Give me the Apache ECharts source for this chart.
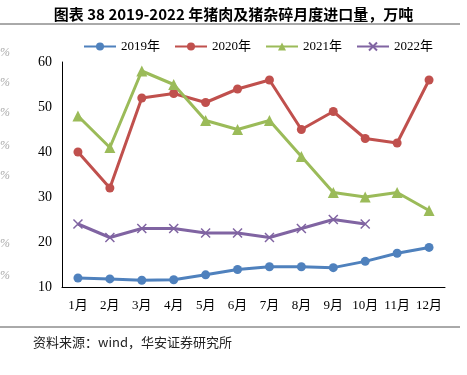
<!DOCTYPE html>
<html>
<head>
<meta charset="utf-8">
<script src="https://cdn.jsdelivr.net/npm/echarts@6/dist/echarts.min.js"></script>
<style>
  html, body { margin: 0; padding: 0; background: #fff; }
  #main { width: 467px; height: 375px; }
</style>
</head>
<body>
<div id="main"></div>
<script>
const months = ['1月', '2月', '3月', '4月', '5月', '6月', '7月', '8月', '9月', '10月', '11月', '12月'];
const y2019 = [12, 11.8, 11.5, 11.6, 12.7, 13.9, 14.5, 14.5, 14.3, 15.7, 17.5, 18.8];
const y2020 = [40, 32, 52, 53, 51, 54, 56, 45, 49, 43, 42, 56];
const y2021 = [48, 41, 58, 55, 47, 45, 47, 39, 31, 30, 31, 27];
const y2022 = [24, 21, 23, 23, 22, 22, 21, 23, 25, 24];

const serif = '"Liberation Serif", "Noto Sans CJK SC", serif';
const cross = 'path://M0,0L10,10M10,0L0,10';

const chart = echarts.init(document.getElementById('main'));

// faint leftover "%" marks along the left edge
const pctY = [47, 77, 107, 140, 170, 238, 270];
const pctMarks = pctY.map(y => ({
  type: 'text', left: 0, top: y,
  style: { text: '%', fill: '#aaa', font: 'italic 12px ' + serif }
}));

function line(name, data, color, symbol, size) {
  return {
    name: name, type: 'line', data: data,
    symbol: symbol, symbolSize: size,
    lineStyle: { color: color, width: 3 },
    itemStyle: { color: color, borderColor: color, borderWidth: symbol === cross ? 1.5 : 0 },
    emphasis: { disabled: true }
  };
}

chart.setOption({
  backgroundColor: '#fff',
  animation: false,
  title: {
    text: '图表 38 2019-2022 年猪肉及猪杂碎月度进口量，万吨',
    left: 'center', top: 2,
    textStyle: { fontSize: 15, fontWeight: 'bold', color: '#000', fontFamily: '"Noto Sans CJK SC", sans-serif' }
  },
  legend: {
    top: 35, left: 78,
    itemWidth: 32, itemHeight: 10, itemGap: 14,
    textStyle: { fontSize: 13, color: '#000', fontFamily: serif }
  },
  grid: { left: 62, right: 22, top: 62, bottom: 88 },
  xAxis: {
    type: 'category', data: months, boundaryGap: true,
    axisLine: { lineStyle: { color: '#000', width: 1 } },
    axisTick: { show: false },
    axisLabel: { color: '#000', fontSize: 13, fontFamily: serif, margin: 12, interval: 0 }
  },
  yAxis: {
    type: 'value', min: 10, max: 60, interval: 10,
    axisLine: { show: true, lineStyle: { color: '#000', width: 1 } },
    axisTick: { show: false },
    splitLine: { show: false },
    axisLabel: { color: '#000', fontSize: 14, fontFamily: serif, margin: 10 }
  },
  graphic: [
    { type: 'line', shape: { x1: 0, y1: 24, x2: 460, y2: 24 }, style: { stroke: '#555', lineWidth: 1 } },
    { type: 'line', shape: { x1: 0, y1: 327, x2: 460, y2: 327 }, style: { stroke: '#555', lineWidth: 1 } },
    { type: 'text', left: 33, top: 336,
      style: { text: '资料来源：wind，华安证券研究所', fill: '#222', font: '13px "Noto Sans CJK SC", serif' } }
  ].concat(pctMarks),
  series: [
    line('2019年', y2019, '#4F81BD', 'circle', 9),
    line('2020年', y2020, '#C0504D', 'circle', 9),
    line('2021年', y2021, '#9BBB59', 'triangle', 11),
    line('2022年', y2022, '#8064A2', cross, 9)
  ]
});
</script>
</body>
</html>
